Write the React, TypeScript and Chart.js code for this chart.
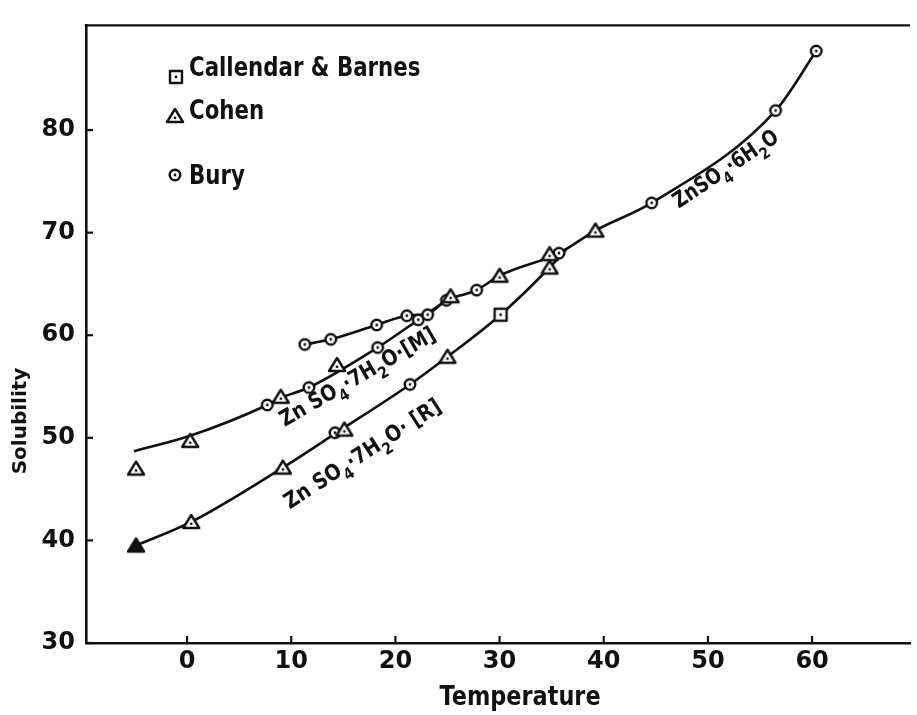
import React, { useEffect, useRef } from "react";
import { Chart, registerables } from "chart.js";

Chart.register(...registerables);

// ---- axis ticks ----
const xTickValues = [0, 10, 20, 30, 40, 50, 60];
const yTickValues = [30, 40, 50, 60, 70, 80];

// ---- curves (drawn lines) ----
// ZnSO4·7H2O [R]
const rCurveT = [-4.9, 0.4, 9.2, 14.5, 21.4, 25.0, 30.1, 34.8, 36.4];
const rCurveS = [39.5, 41.8, 47.1, 50.6, 55.2, 57.9, 62.0, 66.6, 68.4];
// ZnSO4·7H2O [M]
const mCurveT = [-5.1, 0.3, 7.7, 9.0, 11.7, 18.3, 22.2, 24.9];
const mCurveS = [48.7, 50.2, 53.2, 53.9, 54.9, 58.8, 61.5, 63.4];
// upper Bury branch + ZnSO4·6H2O
const uCurveT = [11.3, 13.8, 18.2, 21.1, 23.1, 24.9, 27.8, 30.0, 35.7, 39.2, 44.6, 56.5, 60.4];
const uCurveS = [59.1, 59.6, 61.0, 61.9, 62.1, 63.4, 64.4, 65.8, 68.0, 70.2, 72.9, 81.9, 87.7];

// ---- measured points ----
const buryT = [7.7, 11.7, 18.3, 22.2, 11.3, 13.8, 18.2, 21.1, 23.1, 24.9, 27.8, 35.7, 44.6, 56.5, 60.4, 14.2, 21.4];
const buryS = [53.2, 54.9, 58.8, 61.5, 59.1, 59.6, 61.0, 61.9, 62.0, 63.4, 64.4, 68.0, 72.9, 81.9, 87.7, 50.5, 55.2];
const cohenT = [-4.9, 0.3, 9.0, 14.4, 25.3, 30.0, 34.8, 39.2, 0.4, 9.2, 15.1, 25.0, 34.8];
const cohenS = [47.0, 49.7, 54.0, 57.1, 63.8, 65.8, 67.9, 70.2, 41.8, 47.1, 50.8, 57.9, 66.6];
const cohenSolidT = [-4.9];
const cohenSolidS = [39.5];
const callendarT = [30.1];
const callendarS = [62.0];

const legendLabels = ["Callendar & Barnes", "Cohen", "Bury"];
const curveLabels = ["ZnSO4·6H2O", "Zn SO4·7H2O·[M]", "Zn SO4·7H2O· [R]"];
const xTitle = "Temperature";
const yTitle = "Solubility";

const FONT = '"DejaVu Sans", "Liberation Sans", sans-serif';
const INK = "#111";

const pts = (t: number[], s: number[]) => t.map((x, i) => ({ x, y: s[i] }));

type Kind = "circle" | "triangle" | "triangleSolid" | "square";

function markerCanvas(kind: Kind): HTMLCanvasElement {
  const c = document.createElement("canvas");
  const size = 22;
  c.width = size;
  c.height = size;
  const g = c.getContext("2d")!;
  const m = size / 2;
  g.lineWidth = 2.4;
  g.strokeStyle = INK;
  g.fillStyle = "#fff";
  g.lineJoin = "round";
  const dot = (dy: number) => {
    g.fillStyle = INK;
    g.beginPath();
    g.arc(m, m + dy, 1.4, 0, Math.PI * 2);
    g.fill();
  };
  if (kind === "circle") {
    g.beginPath();
    g.arc(m, m, 5.3, 0, Math.PI * 2);
    g.fill();
    g.stroke();
    dot(0);
  } else if (kind === "square") {
    g.beginPath();
    g.rect(m - 6, m - 6, 12, 12);
    g.fill();
    g.stroke();
    dot(0);
  } else {
    g.beginPath();
    g.moveTo(m, m - 7);
    g.lineTo(m + 8, m + 6);
    g.lineTo(m - 8, m + 6);
    g.closePath();
    if (kind === "triangleSolid") {
      g.fillStyle = INK;
      g.fill();
      g.stroke();
    } else {
      g.fill();
      g.stroke();
      dot(1.8);
    }
  }
  return c;
}

type Part = [string, boolean];

function parseFormula(s: string): Part[] {
  // digits directly after O or H become subscripts
  const parts: Part[] = [];
  let buf = "";
  for (let i = 0; i < s.length; i++) {
    const ch = s[i];
    const prev = s[i - 1];
    if ((ch === "4" || ch === "2") && prev && /[OH]/.test(prev)) {
      if (buf) parts.push([buf, false]);
      buf = "";
      parts.push([ch, true]);
    } else {
      buf += ch;
    }
  }
  if (buf) parts.push([buf, false]);
  return parts;
}

function drawFormula(
  ctx: CanvasRenderingContext2D,
  text: string,
  cx: number,
  cy: number,
  angleDeg: number,
  size: number,
  sx: number
) {
  const parts = parseFormula(text);
  ctx.save();
  ctx.translate(cx, cy);
  ctx.rotate((angleDeg * Math.PI) / 180);
  ctx.scale(sx, 1);
  ctx.fillStyle = INK;
  ctx.textBaseline = "alphabetic";
  ctx.textAlign = "left";
  const fontFor = (sub: boolean) => `bold ${sub ? Math.round(size * 0.74) : size}px ${FONT}`;
  let total = 0;
  const widths = parts.map(([t, sub]) => {
    ctx.font = fontFor(sub);
    const w = ctx.measureText(t).width;
    total += w;
    return w;
  });
  let x = -total / 2;
  const base = size * 0.36;
  parts.forEach(([t, sub], i) => {
    ctx.font = fontFor(sub);
    ctx.fillText(t, x, sub ? base + size * 0.34 : base);
    x += widths[i];
  });
  ctx.restore();
}

function drawNarrow(
  ctx: CanvasRenderingContext2D,
  text: string,
  x: number,
  y: number,
  size: number,
  sx: number,
  align: CanvasTextAlign
) {
  ctx.save();
  ctx.translate(x, y);
  ctx.scale(sx, 1);
  ctx.font = `bold ${size}px ${FONT}`;
  ctx.textAlign = align;
  ctx.textBaseline = "alphabetic";
  ctx.fillStyle = INK;
  ctx.fillText(text, 0, 0);
  ctx.restore();
}

export default function App() {
  const ref = useRef<HTMLCanvasElement | null>(null);

  useEffect(() => {
    document.body.style.margin = "0";
    const canvas = ref.current;
    if (!canvas) return;

    const mCircle = markerCanvas("circle");
    const mTri = markerCanvas("triangle");
    const mTriSolid = markerCanvas("triangleSolid");
    const mSquare = markerCanvas("square");

    const decor = {
      id: "decor",
      afterDraw(chart: any) {
        const ctx: CanvasRenderingContext2D = chart.ctx;
        const a = chart.chartArea;
        const xs = chart.scales.x;
        const ys = chart.scales.y;
        ctx.save();
        ctx.strokeStyle = INK;
        ctx.lineWidth = 2.4;
        ctx.lineCap = "butt";
        // top frame line
        ctx.beginPath();
        ctx.moveTo(a.left - 1.3, a.top);
        ctx.lineTo(a.right, a.top);
        ctx.stroke();
        // inward ticks
        ctx.lineWidth = 2.2;
        xTickValues.forEach((v) => {
          const px = xs.getPixelForValue(v);
          ctx.beginPath();
          ctx.moveTo(px, a.bottom);
          ctx.lineTo(px, a.bottom - 7);
          ctx.stroke();
        });
        yTickValues.forEach((v) => {
          const py = ys.getPixelForValue(v);
          ctx.beginPath();
          ctx.moveTo(a.left, py);
          ctx.lineTo(a.left + 7, py);
          ctx.stroke();
        });
        // axis titles
        drawNarrow(ctx, xTitle, 520, 705, 27, 0.83, "center");
        ctx.save();
        ctx.translate(21, 421);
        ctx.rotate(-Math.PI / 2);
        ctx.fillStyle = INK;
        ctx.font = `bold 20px ${FONT}`;
        ctx.textAlign = "center";
        ctx.textBaseline = "middle";
        ctx.fillText(yTitle, 0, 0);
        ctx.restore();
        // legend
        const legendMarkers = [mSquare, mTri, mCircle];
        const legendPos = [
          [176, 77, 76],
          [175, 116, 119],
          [175, 175, 184],
        ];
        legendLabels.forEach((lab, i) => {
          const [mx, my, by] = legendPos[i];
          const img = legendMarkers[i];
          ctx.drawImage(img, mx - img.width / 2, my - img.height / 2);
          drawNarrow(ctx, lab, 189, by, 26, 0.82, "left");
        });
        // curve labels
        drawFormula(ctx, curveLabels[0], 725, 168, -34, 22, 0.82);
        drawFormula(ctx, curveLabels[1], 357, 376, -30, 22, 0.85);
        drawFormula(ctx, curveLabels[2], 362, 453, -33, 22, 0.87);
        ctx.restore();
      },
    };

    const lineDs = (label: string, t: number[], s: number[]) => ({
      label,
      data: pts(t, s),
      showLine: true,
      pointRadius: 0,
      borderColor: INK,
      borderWidth: 2.6,
      cubicInterpolationMode: "monotone" as const,
      order: 5,
    });
    const markDs = (label: string, t: number[], s: number[], img: HTMLCanvasElement) => ({
      label,
      data: pts(t, s),
      showLine: false,
      pointStyle: img,
      pointRadius: 6,
      order: 0,
    });

    const chart = new Chart(canvas, {
      type: "scatter",
      data: {
        datasets: [
          markDs("Callendar & Barnes", callendarT, callendarS, mSquare) as any,
          markDs("Cohen", cohenT, cohenS, mTri) as any,
          markDs("Cohen (solid)", cohenSolidT, cohenSolidS, mTriSolid) as any,
          markDs("Bury", buryT, buryS, mCircle) as any,
          lineDs("ZnSO4·7H2O [R]", rCurveT, rCurveS) as any,
          lineDs("ZnSO4·7H2O [M]", mCurveT, mCurveS) as any,
          lineDs("ZnSO4·6H2O", uCurveT, uCurveS) as any,
        ],
      },
      options: {
        responsive: false,
        animation: false,
        events: [],
        layout: { padding: { top: 13, right: 0, left: 0, bottom: 0 } },
        plugins: {
          legend: { display: false },
          tooltip: { enabled: false },
          title: { display: false },
        },
        scales: {
          x: {
            type: "linear",
            min: -9.7,
            max: 69.4,
            grid: { display: false, drawTicks: false },
            border: { display: true, color: INK, width: 2.6 },
            afterBuildTicks: (s: any) => {
              s.ticks = xTickValues.map((v) => ({ value: v }));
            },
            afterFit: (s: any) => {
              s.height = 72;
            },
            ticks: {
              color: INK,
              font: { family: FONT, size: 24, weight: "bold" },
              padding: 4,
              maxRotation: 0,
              autoSkip: false,
            },
          },
          y: {
            type: "linear",
            min: 30,
            max: 90.2,
            grid: { display: false, drawTicks: false },
            border: { display: true, color: INK, width: 2.6 },
            afterBuildTicks: (s: any) => {
              s.ticks = yTickValues.map((v) => ({ value: v }));
            },
            afterFit: (s: any) => {
              s.width = 86;
            },
            ticks: {
              color: INK,
              font: { family: FONT, size: 24, weight: "bold" },
              padding: 11,
              autoSkip: false,
            },
          },
        },
      } as any,
      plugins: [decor],
    });

    return () => {
      chart.destroy();
    };
  }, []);

  return (
    <div style={{ width: 917, height: 715, background: "#fff" }}>
      <canvas ref={ref} width={917} height={715} style={{ display: "block" }} />
    </div>
  );
}
